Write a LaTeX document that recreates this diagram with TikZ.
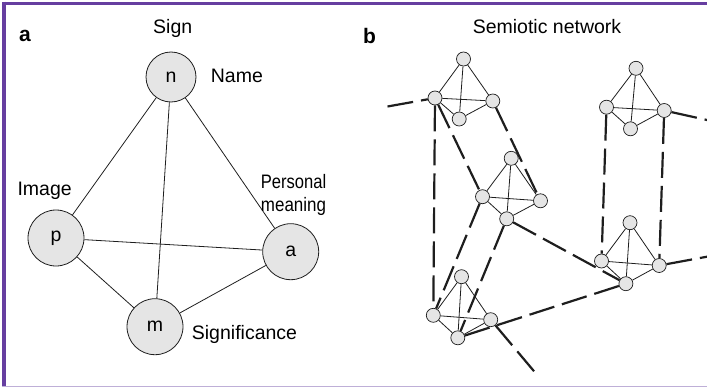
\documentclass[tikz,border=0pt]{standalone}
\usepackage{fontspec}
\setmainfont{Liberation Sans}
\usetikzlibrary{backgrounds}
\definecolor{framec}{RGB}{102,62,160}
\definecolor{framelight}{RGB}{190,175,215}
\definecolor{nodefill}{RGB}{229,229,229}
\definecolor{inkc}{RGB}{30,30,30}
\tikzset{
  bigcirc/.style={circle,draw=inkc,line width=0.8pt,fill=nodefill,minimum size=56pt,inner sep=0pt,font=\fontsize{19.5}{23.4}\selectfont},
  smallcirc/.style={circle,draw=inkc,line width=0.7pt,fill=nodefill,minimum size=14pt,inner sep=0pt},
  thinedge/.style={draw=inkc,line width=0.8pt},
  dashedge/.style={draw=inkc,line width=2.2pt,dash pattern=on 26pt off 8pt},
  lbl/.style={inner sep=0pt,font=\fontsize{19.5}{23.4}\selectfont},
  panel/.style={inner sep=0pt,font=\fontsize{21}{25}\selectfont\bfseries}
}
\begin{document}
\begin{tikzpicture}[x=1pt,y=-1pt]
\useasboundingbox (0,0) rectangle (707,388);
% frame
\draw[framec,line width=3.3pt] (2,3.3) -- (707,3.3);
\draw[framec,line width=3.5pt] (4,1.6) -- (4,386);
\draw[framelight,line width=1.4pt] (2,386.6) -- (707,386.6);

% ---------- panel a ----------
\node[panel,anchor=base west] (la) at (19,41) {a};
\node[bigcirc,minimum size=50pt] (n) at (171,77) {n};
\node[bigcirc] (p) at (56,238) {p};
\node[bigcirc] (av) at (290.7,251.7) {a};
\node[bigcirc] (m) at (155,326.7) {m};
\begin{scope}[on background layer]
\draw[thinedge] (n) -- (p);
\draw[thinedge] (n) -- (av);
\draw[thinedge] (n) -- (m);
\draw[thinedge] (p) -- (av);
\draw[thinedge] (p) -- (m);
\draw[thinedge] (m) -- (av);
\end{scope}
\node[lbl,anchor=base] (sign) at (172.7,34) {Sign};
\node[lbl,anchor=base west] (name) at (210.7,82.7) {Name};
\node[lbl,anchor=base west] (image) at (17.3,195) {Image};
\node[lbl,anchor=base,align=center] (pers) at (293.5,211.7) {\scalebox{0.85}[1]{Personal}\\\scalebox{0.87}[1]{meaning}};
\node[lbl,anchor=base west] (signif) at (191.7,339.3) {Significance};

% ---------- panel b ----------
\node[panel,anchor=base west] (lb) at (363,43) {b};
\node[lbl,anchor=base] (semnet) at (547,33.3) {Semiotic network};

% tetrahedra
\foreach \k/\tx/\ty/\lx/\ly/\rx/\ry/\bx/\by in {
  1/463.5/59/435/98/492.8/101/459.2/119,
  2/511.2/158.3/482.5/196.7/540.5/200.8/506.7/218.8,
  3/461.5/276.7/433.3/315.3/490.7/319.7/457.8/337.8,
  4/636/68.3/606.5/107.2/664.2/110.5/630.5/128.8,
  5/630/222.7/601.5/261/659.2/265.5/625.9/283.7}{
  \node[smallcirc] (t\k t) at (\tx,\ty) {};
  \node[smallcirc] (t\k l) at (\lx,\ly) {};
  \node[smallcirc] (t\k r) at (\rx,\ry) {};
  \node[smallcirc] (t\k b) at (\bx,\by) {};
}
\coordinate (lout) at (387.5,106.5);
\coordinate (rout1) at (707,120);
\coordinate (rout2) at (707,256.7);
\coordinate (bout) at (535.5,373);

\begin{scope}[on background layer]
\foreach \k in {1,...,5}{
  \draw[thinedge] (t\k t) -- (t\k l);
  \draw[thinedge] (t\k t) -- (t\k r);
  \draw[thinedge] (t\k t) -- (t\k b);
  \draw[thinedge] (t\k l) -- (t\k r);
  \draw[thinedge] (t\k l) -- (t\k b);
  \draw[thinedge] (t\k r) -- (t\k b);
}
\draw[dashedge] (lout) -- (t1l);
\draw[dashedge] (t1l) -- (t3l);
\draw[dashedge] (t1l) -- (t2l);
\draw[dashedge] (t1r) -- (t2r);
\draw[dashedge] (t2l) -- (t3l);
\draw[dashedge] (t2b) -- (t3b);
\draw[dashedge] (t2b) -- (t5b);
\draw[dashedge] (t3b) -- (t5b);
\draw[dashedge] (t3r) -- (bout);
\draw[dashedge] (t4l) -- (t5l);
\draw[dashedge] (t4r) -- (t5r);
\draw[dashedge] (t4r) -- (rout1);
\draw[dashedge] (t5r) -- (rout2);
\end{scope}
\end{tikzpicture}
\end{document}
